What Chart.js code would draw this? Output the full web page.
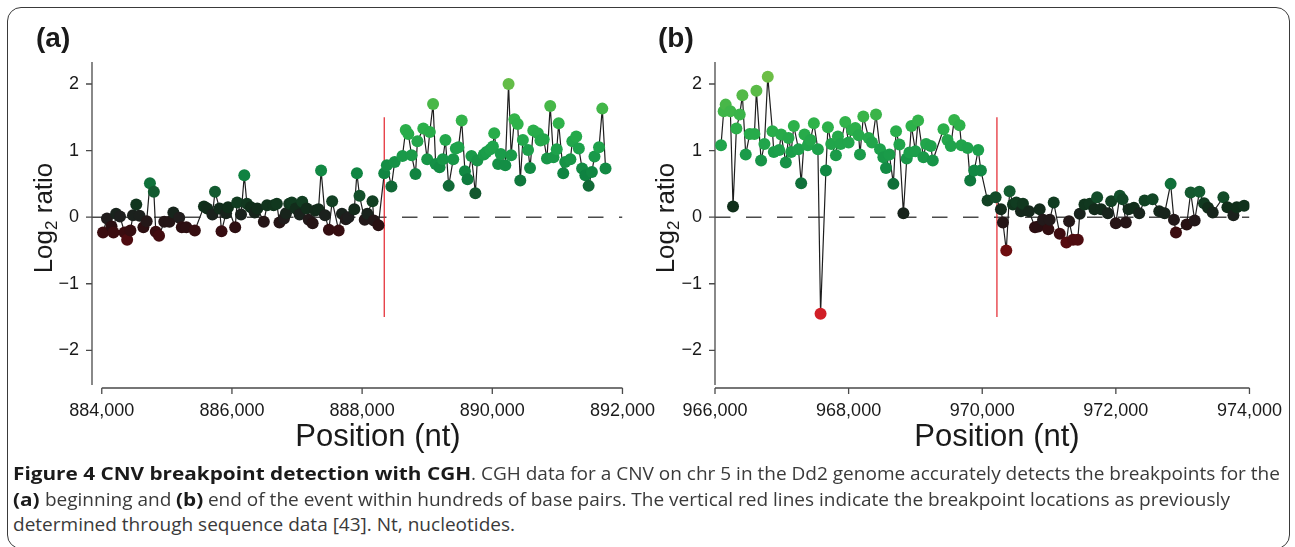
<!DOCTYPE html>
<html>
<head>
<meta charset="utf-8">
<script src="https://cdn.jsdelivr.net/npm/chart.js@4.4.0/dist/chart.umd.min.js"></script>
<style>
  html, body { margin: 0; padding: 0; background: #fff; overflow: hidden; }
  body { width: 1295px; height: 547px; position: relative; font-family: 'Liberation Sans', Arial, sans-serif; }
  #frame { position: absolute; left: 7px; top: 7px; width: 1281px; height: 540px; border: 1.5px solid #3a3a3a; border-radius: 14px; }
  canvas { position: absolute; }
  #chartA { left: 0; top: 0; }
  #chartB { left: 615px; top: 0; }
  .panel { position: absolute; font-weight: bold; font-size: 28px; color: #1a1a1a; }
  .ytitle { position: absolute; font-size: 26px; color: #1a1a1a; white-space: nowrap; transform: translate(-50%, -50%) rotate(-90deg); }
  .ytitle sub { font-size: 17px; vertical-align: -5px; }
  .xtitle { position: absolute; font-size: 31px; color: #1a1a1a; white-space: nowrap; transform: translate(-50%, -50%); }
  .cl { position: absolute; left: 13px; white-space: nowrap; font-family: 'Open Sans', sans-serif; font-size: 18px; line-height: 22px; color: #3a3a3a; }
  .seg { display: inline-block; white-space: pre; overflow: visible; vertical-align: top; }
  .seg > span { display: inline-block; transform-origin: left center; }
  .seg.b { font-weight: bold; color: #1a1a1a; }
</style>
</head>
<body>
<div id="frame"></div>
<canvas id="chartA" width="670" height="470"></canvas>
<canvas id="chartB" width="682" height="470"></canvas>
<div class="panel" style="left:36px; top:22px;">(a)</div>
<div class="panel" style="left:658px; top:22px;">(b)</div>
<div class="ytitle" style="left:45px; top:218px;">Log<sub>2</sub> ratio</div>
<div class="ytitle" style="left:667px; top:218px;">Log<sub>2</sub> ratio</div>
<div class="xtitle" style="left:378px; top:436px;">Position (nt)</div>
<div class="xtitle" style="left:997px; top:436px;">Position (nt)</div>
<div class="cl" style="top:462px;"><span class="seg b" id="b1"><span>Figure 4 CNV breakpoint detection with CGH</span></span><span class="seg r" id="r1"><span>. CGH data for a CNV on chr 5 in the Dd2 genome accurately detects the breakpoints for the</span></span></div>
<div class="cl" style="top:488px;"><span class="seg b"><span>(a)</span></span><span class="seg r"><span> beginning and </span></span><span class="seg b"><span>(b)</span></span><span class="seg r"><span> end of the event within hundreds of base pairs. The vertical red lines indicate the breakpoint locations as previously</span></span></div>
<div class="cl" style="top:513px;"><span class="seg r" id="r3"><span>determined through sequence data [43]. Nt, nucleotides.</span></span></div>
<script>
// axis ticks
const xTicksA = [884000, 886000, 888000, 890000, 892000];
const xTicksB = [966000, 968000, 970000, 972000, 974000];
const yTicks = [-2, -1, 0, 1, 2];

// panel (a): beginning of the event
const posA = [884020, 884080, 884150, 884180, 884220, 884280, 884350, 884390, 884440, 884480,
  884530, 884580, 884640, 884690, 884740, 884800, 884830, 884880, 884960, 885040,
  885100, 885190, 885230, 885300, 885430, 885570, 885620, 885700, 885740, 885810,
  885840, 885910, 885940, 886050, 886080, 886140, 886190, 886230, 886290, 886350,
  886390, 886490, 886540, 886640, 886690, 886730, 886800, 886830, 886880, 886920,
  886980, 887040, 887080, 887150, 887180, 887240, 887280, 887330, 887370, 887430,
  887490, 887540, 887640, 887690, 887750, 887790, 887880, 887920, 887960, 888040,
  888080, 888160, 888180, 888250, 888340, 888380, 888450, 888500, 888620, 888670,
  888710, 888760, 888820, 888850, 888940, 889000, 889040, 889090, 889130, 889190,
  889240, 889280, 889330, 889400, 889440, 889480, 889530, 889580, 889620, 889680,
  889740, 889770, 889870, 889910, 889970, 890010, 890030, 890090, 890130, 890200,
  890250, 890290, 890340, 890390, 890430, 890470, 890550, 890580, 890630, 890700,
  890740, 890790, 890840, 890890, 890940, 890990, 891020, 891090, 891120, 891200,
  891230, 891290, 891330, 891380, 891430, 891480, 891530, 891570, 891640, 891690, 891740];
const logA = [-0.23, -0.02, -0.14, -0.23, 0.05, 0.01, -0.23, -0.34, -0.2, 0.03,
  0.19, 0.02, -0.15, -0.06, 0.51, 0.38, -0.22, -0.28, -0.07, -0.07,
  0.07, -0.01, -0.15, -0.15, -0.2, 0.16, 0.13, 0.04, 0.38, 0.13,
  -0.21, 0.06, 0.15, -0.15, 0.22, 0.04, 0.63, 0.2, 0.15, 0.07,
  0.13, -0.07, 0.18, 0.18, 0.2, -0.08, -0.02, 0.06, 0.2, 0.22,
  0.13, 0.04, 0.23, 0.13, -0.04, -0.09, 0.1, 0.12, 0.7, 0.03,
  -0.19, 0.24, -0.2, 0.05, -0.03, 0.0, 0.12, 0.66, 0.32, -0.04,
  0.05, 0.24, -0.05, -0.12, 0.66, 0.78, 0.46, 0.83, 0.92, 1.31,
  1.25, 0.93, 0.65, 1.14, 1.33, 0.87, 1.28, 1.7, 0.8, 0.75,
  0.87, 1.16, 0.47, 0.87, 1.03, 1.05, 1.45, 0.69, 0.57, 0.92,
  0.36, 0.85, 0.94, 0.98, 1.02, 1.06, 1.26, 0.8, 0.95, 0.78,
  2.0, 0.93, 1.47, 1.4, 0.55, 1.16, 1.01, 0.74, 1.3, 1.26,
  1.15, 1.17, 0.88, 1.67, 0.9, 1.02, 1.41, 0.66, 0.83, 0.87,
  1.14, 1.21, 1.03, 0.73, 0.63, 0.47, 0.68, 0.91, 1.05, 1.63, 0.73];

// panel (b): end of the event
const posB = [966090, 966130, 966160, 966230, 966270, 966320, 966370, 966410, 966460, 966520,
  966590, 966620, 966690, 966740, 966790, 966860, 966880, 966960, 966990, 967060,
  967100, 967140, 967180, 967250, 967290, 967340, 967390, 967430, 967480, 967540,
  967580, 967660, 967690, 967740, 967810, 967840, 967880, 967950, 968000, 968050,
  968100, 968150, 968170, 968220, 968300, 968350, 968410, 968470, 968520, 968560,
  968610, 968670, 968710, 968760, 968820, 968870, 968910, 968940, 969000, 969040,
  969120, 969160, 969230, 969260, 969420, 969480, 969530, 969580, 969660, 969690,
  969780, 969820, 969880, 969940, 969980, 970080, 970200, 970280, 970310, 970360,
  970410, 970460, 970510, 970580, 970610, 970700, 970790, 970840, 970860, 970910,
  970990, 971010, 971070, 971160, 971260, 971300, 971360, 971430, 971460, 971530,
  971610, 971680, 971720, 971780, 971880, 971930, 972000, 972060, 972100, 972150,
  972190, 972270, 972350, 972430, 972550, 972650, 972730, 972820, 972870, 972900,
  973060, 973120, 973180, 973250, 973320, 973380, 973450, 973610, 973670, 973760,
  973810, 973920];
const logB = [1.08, 1.59, 1.69, 1.59, 0.16, 1.33, 1.54, 1.83, 0.94, 1.25,
  1.25, 1.9, 0.85, 1.1, 2.11, 1.29, 0.98, 1.01, 1.24, 0.82,
  1.19, 0.98, 1.37, 1.02, 0.51, 1.24, 1.08, 1.16, 1.41, 1.02,
  -1.45, 0.7, 1.35, 1.1, 0.93, 1.21, 1.1, 1.43, 1.12, 1.31,
  1.34, 1.23, 0.94, 1.51, 1.19, 1.12, 1.54, 1.02, 0.9, 0.74,
  0.94, 0.5, 1.29, 1.09, 0.06, 0.88, 0.97, 1.37, 0.99, 1.45,
  0.9, 1.1, 1.07, 0.85, 1.32, 1.16, 1.07, 1.46, 1.38, 1.08,
  1.04, 0.55, 0.7, 1.01, 0.7, 0.25, 0.3, 0.12, -0.08, -0.5,
  0.39, 0.19, 0.22, 0.09, 0.2, 0.09, -0.15, -0.14, 0.12, -0.04,
  -0.18, -0.04, 0.22, -0.25, -0.38, -0.06, -0.34, -0.34, 0.05, 0.19,
  0.2, 0.12, 0.3, 0.12, 0.06, 0.24, -0.09, 0.32, 0.27, -0.08,
  0.12, 0.14, 0.06, 0.25, 0.27, 0.09, 0.06, 0.5, -0.04, -0.23,
  -0.11, 0.37, -0.05, 0.38, 0.21, 0.14, 0.07, 0.3, 0.15, 0.03,
  0.15, 0.17];

// breakpoints from sequence data
const breakA = 888340;
const breakB = 970220;
const breakSpan = [-1.5, 1.5];

// colour ramp for the log2 ratio (green up, red down)
const upStops = [[0, [30, 30, 30]], [0.15, [16, 46, 26]], [0.35, [20, 86, 46]], [0.6, [14, 128, 64]],
  [1.0, [28, 160, 75]], [1.4, [46, 178, 74]], [2.1, [108, 190, 70]]];
const downStops = [[0, [32, 30, 30]], [0.12, [40, 16, 18]], [0.25, [62, 12, 16]], [0.4, [88, 12, 16]],
  [0.5, [110, 14, 16]], [1.5, [214, 32, 40]]];

function ratioColor(v) {
  const stops = v >= 0 ? upStops : downStops;
  const a = Math.abs(v);
  for (let i = 1; i < stops.length; i++) {
    if (a <= stops[i][0] || i === stops.length - 1) {
      const [a0, c0] = stops[i - 1], [a1, c1] = stops[i];
      const t = Math.max(0, Math.min(1, (a - a0) / (a1 - a0)));
      const c = c0.map((ch, k) => Math.round(ch + (c1[k] - ch) * t));
      return 'rgb(' + c.join(',') + ')';
    }
  }
}

const font = { family: "'Liberation Sans', Arial, sans-serif", size: 18 };

// R style axis lines: y along the plot, x only between first and last tick
const axisLines = {
  id: 'axisLines',
  beforeDatasetsDraw(chart) {
    const { ctx, chartArea: a, scales: { x, y } } = chart;
    const yb = a.bottom + 3;
    ctx.save();
    ctx.strokeStyle = '#4a4a4a';
    ctx.lineWidth = 1.3;
    ctx.beginPath();
    ctx.moveTo(a.left, a.top);
    ctx.lineTo(a.left, a.bottom);
    const xs = x.ticks.map(t => x.getPixelForValue(t.value));
    ctx.moveTo(xs[0], yb);
    ctx.lineTo(xs[xs.length - 1], yb);
    xs.forEach(px => { ctx.moveTo(px, yb); ctx.lineTo(px, yb + 6); });
    y.ticks.forEach(t => {
      const py = y.getPixelForValue(t.value);
      ctx.moveTo(a.left, py);
      ctx.lineTo(a.left - 6, py);
    });
    ctx.stroke();
    ctx.restore();
  }
};

function makeChart(id, pos, vals, xTicks, xMin, bp, padLeft, padRight) {
  const points = pos.map((p, i) => ({ x: p, y: vals[i] }));
  const xMax = xTicks[xTicks.length - 1];
  new Chart(document.getElementById(id), {
    type: 'scatter',
    data: {
      datasets: [
        {
          data: points,
          showLine: true,
          borderColor: '#1e1e1e',
          borderWidth: 1.2,
          pointRadius: 6,
          pointBorderWidth: 0,
          pointBackgroundColor: ctx => ratioColor(ctx.raw ? ctx.raw.y : 0)
        },
        {
          data: [{ x: bp, y: breakSpan[0] }, { x: bp, y: breakSpan[1] }],
          showLine: true,
          borderColor: '#e3222b',
          borderWidth: 1.2,
          pointRadius: 0
        },
        {
          data: [{ x: xMin, y: 0 }, { x: xMax, y: 0 }],
          showLine: true,
          borderColor: '#4a4a4a',
          borderWidth: 1.5,
          borderDash: [15.5, 15.5],
          pointRadius: 0
        }
      ]
    },
    options: {
      responsive: false,
      animation: false,
      events: [],
      layout: { padding: { left: padLeft, right: padRight, top: 62, bottom: 0 } },
      plugins: { legend: { display: false }, tooltip: { enabled: false } },
      scales: {
        x: {
          type: 'linear',
          min: xMin,
          max: xMax,
          grid: { display: false, drawTicks: false },
          border: { display: false },
          afterBuildTicks: s => { s.ticks = xTicks.map(v => ({ value: v })); },
          afterFit: s => { s.height = 85; },
          ticks: {
            padding: 15,
            color: '#1a1a1a',
            font: font,
            maxRotation: 0,
            callback: v => v.toLocaleString('en-US')
          }
        },
        y: {
          min: -2.52,
          max: 2.33,
          grid: { display: false, drawTicks: false },
          border: { display: false },
          afterBuildTicks: s => { s.ticks = yTicks.map(v => ({ value: v })); },
          afterFit: s => { s.width = 40; },
          ticks: {
            padding: 13,
            color: '#1a1a1a',
            font: font,
            callback: v => (v < 0 ? '\u2212' + Math.abs(v) : String(v))
          }
        }
      }
    },
    plugins: [axisLines]
  });
}

makeChart('chartA', posA, logA, xTicksA, 883850, breakA, 52, 43);
makeChart('chartB', posB, logB, xTicksB, 966000, breakB, 60, 45);

// caption: plain text condensed to the printed measure, bold run fills the rest of line 1
const width = sel => document.querySelector(sel).getBoundingClientRect().width;
const sr = 502 / width('#r3 > span');
const sb = (1267 - width('#r1 > span') * sr) / width('#b1 > span');
document.querySelectorAll('.seg').forEach(seg => {
  const inner = seg.firstElementChild;
  const s = seg.classList.contains('b') ? sb : sr;
  const w = inner.getBoundingClientRect().width;
  seg.style.width = (w * s) + 'px';
  inner.style.transform = 'scaleX(' + s + ')';
});
</script>
</body>
</html>
